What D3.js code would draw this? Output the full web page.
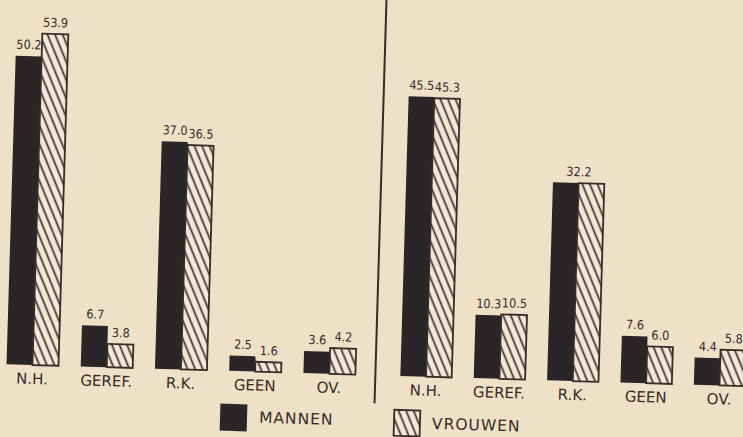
<!DOCTYPE html>
<html>
<head>
<meta charset="utf-8">
<script src="https://cdn.jsdelivr.net/npm/d3@7/dist/d3.min.js"></script>
<style>
  html, body { margin: 0; padding: 0; background: #eee1c8; }
  svg { display: block; }
</style>
</head>
<body>
<div class="main"></div>
<script>
//data (percentages)
var categories = ["N.H.", "GEREF.", "R.K.", "GEEN", "OV."];
var seriesNames = ["MANNEN", "VROUWEN"];
var leftMannen = [50.2, 6.7, 37.0, 2.5, 3.6];
var leftVrouwen = [53.9, 3.8, 36.5, 1.6, 4.2];
var rightMannen = [45.5, 10.3, 32.2, 7.6, 4.4];
var rightVrouwen = [45.3, 10.5, 32.2, 6.0, 5.8];

//canvas config
var width = 743;
var height = 437;
var baseline = 375;
var ink = "#2a2628";
var lineInk = "#3a2b27";
var paper = "#eee1c8";

var svg = d3.select(".main")
	.append("svg")
	.attr("width", width)
	.attr("height", height)
	.style("background", paper);

//hatch pattern for the vrouwen bars
var defs = svg.append("defs");
var pat = defs.append("pattern")
	.attr("id", "hatch")
	.attr("patternUnits", "userSpaceOnUse")
	.attr("width", 7)
	.attr("height", 7)
	.attr("patternTransform", "rotate(-24)");
pat.append("rect")
	.attr("width", 7)
	.attr("height", 7)
	.attr("fill", "#f3e9d8");
pat.append("line")
	.attr("x1", 3.5).attr("y1", -1)
	.attr("x2", 3.5).attr("y2", 8)
	.attr("stroke", lineInk)
	.attr("stroke-width", 1.7);

//the scanned sheet is slightly turned, so the whole drawing is too
var page = svg.append("g")
	.attr("transform", "rotate(1.7," + width / 2 + "," + height / 2 + ")");

var yScale = d3.scaleLinear()
	.domain([0, 60])
	.range([baseline, baseline - 369]);

var seriesScaleFor = function(band) {
	return d3.scaleBand()
		.domain(seriesNames)
		.range([0, band])
		.padding(0);
};

function drawPanel(x0, x1, mannen, vrouwen) {
	var xScale = d3.scaleBand()
		.domain(categories)
		.range([x0, x1])
		.paddingInner(0.3)
		.paddingOuter(0);
	var sScale = seriesScaleFor(xScale.bandwidth());

	var rows = categories.map(function(c, i) {
		return {cat: c, MANNEN: mannen[i], VROUWEN: vrouwen[i]};
	});

	var groups = page.append("g")
		.attr("class", "panel")
		.selectAll("g")
		.data(rows)
		.enter()
		.append("g")
		.attr("transform", function(d) { return "translate(" + xScale(d.cat) + ",0)"; });

	//bars
	groups.selectAll("rect")
		.data(function(d) { return seriesNames.map(function(s) { return {s: s, v: d[s]}; }); })
		.enter()
		.append("rect")
		.attr("x", function(d) { return sScale(d.s); })
		.attr("y", function(d) { return yScale(d.v); })
		.attr("width", sScale.bandwidth())
		.attr("height", function(d) { return yScale(0) - yScale(d.v); })
		.attr("fill", function(d) { return d.s == "MANNEN" ? ink : "url(#hatch)"; })
		.attr("stroke", function(d) { return d.s == "MANNEN" ? "none" : lineInk; })
		.attr("stroke-width", 1.8);

	//value labels, one shared label when both values are the same
	groups.selectAll("text.value")
		.data(function(d) {
			if (d.MANNEN == d.VROUWEN) {
				return [{x: xScale.bandwidth() / 2, v: d.MANNEN}];
			}
			return seriesNames.map(function(s) {
				return {x: sScale(s) + sScale.bandwidth() / 2, v: d[s]};
			});
		})
		.enter()
		.append("text")
		.attr("class", "value")
		.attr("x", function(d) { return d.x; })
		.attr("y", function(d) { return yScale(d.v) - 7; })
		.attr("text-anchor", "middle")
		.style("font-family", "'DejaVu Sans Condensed', 'DejaVu Sans', sans-serif")
		.style("font-size", "12.5px")
		.style("fill", lineInk)
		.text(function(d) { return d3.format(".1f")(d.v); });

	//category labels under the bars
	groups.append("text")
		.attr("class", "cat")
		.attr("x", xScale.bandwidth() / 2)
		.attr("y", baseline + 19)
		.attr("text-anchor", "middle")
		.style("font-family", "'DejaVu Sans', sans-serif")
		.style("font-size", "15px")
		.style("fill", lineInk)
		.text(function(d) { return d.cat; });
}

drawPanel(11, 360, leftMannen, leftVrouwen);
drawPanel(405, 750, rightMannen, rightVrouwen);

//divider between the two panels
page.append("line")
	.attr("x1", 380).attr("y1", -12)
	.attr("x2", 380).attr("y2", 403)
	.attr("stroke", lineInk)
	.attr("stroke-width", 2);

//legend
var legendPos = [{x: 226, y: 408, w: 27}, {x: 400, y: 409, w: 26}];
var legend = page.append("g")
	.attr("class", "legend")
	.selectAll("g")
	.data(seriesNames)
	.enter()
	.append("g")
	.attr("transform", function(d, i) { return "translate(" + legendPos[i].x + "," + legendPos[i].y + ")"; });

legend.append("rect")
	.attr("width", function(d, i) { return legendPos[i].w; })
	.attr("height", function(d, i) { return legendPos[i].w; })
	.attr("fill", function(d) { return d == "MANNEN" ? ink : "url(#hatch)"; })
	.attr("stroke", function(d) { return d == "MANNEN" ? "none" : lineInk; })
	.attr("stroke-width", 1.8);

legend.append("text")
	.attr("x", function(d, i) { return legendPos[i].w + 12; })
	.attr("y", 18)
	.style("font-family", "'DejaVu Sans', sans-serif")
	.style("font-size", "15.5px")
	.style("letter-spacing", "1px")
	.style("fill", lineInk)
	.text(function(d) { return d; });
</script>
</body>
</html>
